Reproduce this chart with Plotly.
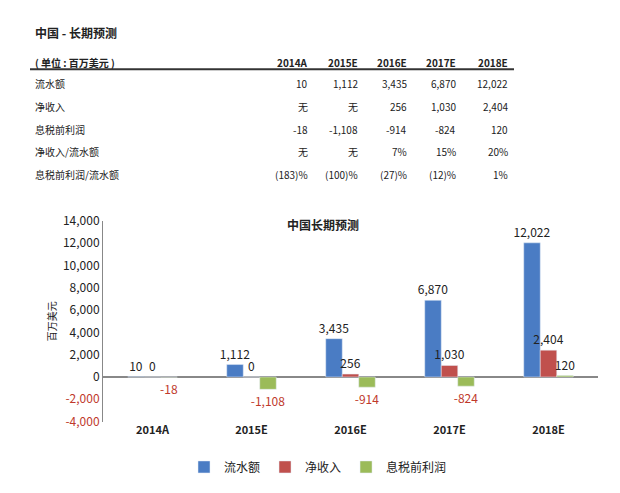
import plotly.graph_objects as go

W, H = 620, 493

anos = ["2014A", "2015E", "2016E", "2017E", "2018E"]
fluxo = [10, 1112, 3435, 6870, 12022]
receita = [0, 0, 256, 1030, 2404]
ebit = [-18, -1108, -914, -824, 120]

linhas_tabela = [
    ("流水额", ["10", "1,112", "3,435", "6,870", "12,022"]),
    ("净收入", ["无", "无", "256", "1,030", "2,404"]),
    ("息税前利润", ["-18", "-1,108", "-914", "-824", "120"]),
    ("净收入/流水额", ["无", "无", "7%", "15%", "20%"]),
    ("息税前利润/流水额", ["(183)%", "(100)%", "(27)%", "(12)%", "1%"]),
]

y_ticks = [-4000, -2000, 0, 2000, 4000, 6000, 8000, 10000, 12000, 14000]

FONT = "Noto Sans CJK SC"
RED = "#c0392b"


def px(x):
    return x / W


def py(y):
    return 1 - y / H


def rotulo(v):
    return f"{v:,}"


fig = go.Figure()
for nome, vals, cor in [("流水额", fluxo, "#4a7cc4"),
                        ("净收入", receita, "#c0504d"),
                        ("息税前利润", ebit, "#9bbb59")]:
    fig.add_trace(go.Bar(
        x=anos, y=vals, name=nome, marker_color=cor,
        text=[rotulo(v) for v in vals], textposition="outside",
        textangle=0, constraintext="none",
        textfont=dict(size=12, color=[RED if v < 0 else "#222" for v in vals]),
        cliponaxis=False,
    ))

ticktext = [f"<span style='color:{RED}'>{t:,}</span>" if t < 0 else f"{t:,}" for t in y_ticks]

fig.update_layout(
    width=W, height=H, margin=dict(l=0, r=0, t=0, b=0),
    paper_bgcolor="white", plot_bgcolor="white",
    font=dict(family=FONT, size=11, color="#222"),
    barmode="group", bargap=0.5, bargroupgap=0.0,
    uniformtext=dict(minsize=12, mode="show"),
    xaxis=dict(domain=[px(95), px(590)], showline=False, ticks="",
               tickfont=dict(size=11), anchor="y",
               ticktext=[f"<b>{a}</b>" for a in anos], tickvals=anos),
    yaxis=dict(domain=[py(418), py(210)], range=[-4000, 14000],
               tickvals=y_ticks, ticktext=ticktext, showgrid=False,
               showline=True, linecolor="#888", zeroline=True,
               zerolinecolor="#888", tickfont=dict(size=12),
               title=dict(text="百万美元", font=dict(size=10), standoff=4)),
    legend=dict(orientation="h", x=0.5, xanchor="center", y=py(465), yanchor="middle",
                font=dict(size=12)),
)

ann = []
ann.append(dict(x=px(25), y=py(15), text="<b>中国 - 长期预测</b>", xanchor="left", font=dict(size=12)))
ann.append(dict(x=px(25), y=py(46), text="<b>( 单位 : 百万美元 )</b>", xanchor="left", font=dict(size=10)))
ann.append(dict(x=px(315), y=py(214), text="<b>中国长期预测</b>", font=dict(size=12)))
col_x = [302, 352, 401, 450, 502]
for cx, a in zip(col_x, anos):
    ann.append(dict(x=px(cx), y=py(46), text=f"<b>{a}</b>", xanchor="right", font=dict(size=10)))
row_y = [68, 92, 115, 138, 162]
for ry, (label, vals) in zip(row_y, linhas_tabela):
    ann.append(dict(x=px(25), y=py(ry), text=label, xanchor="left", font=dict(size=10)))
    for cx, v in zip(col_x, vals):
        ann.append(dict(x=px(cx), y=py(ry), text=v, xanchor="right", font=dict(size=10)))
for a in ann:
    a.update(xref="paper", yref="paper", showarrow=False, yanchor="middle")
fig.update_layout(annotations=ann)

fig.add_shape(type="line", xref="paper", yref="paper", x0=px(22), x1=px(506),
              y0=py(53), y1=py(53), line=dict(color="#333", width=2))

fig.write_html("out.html")
